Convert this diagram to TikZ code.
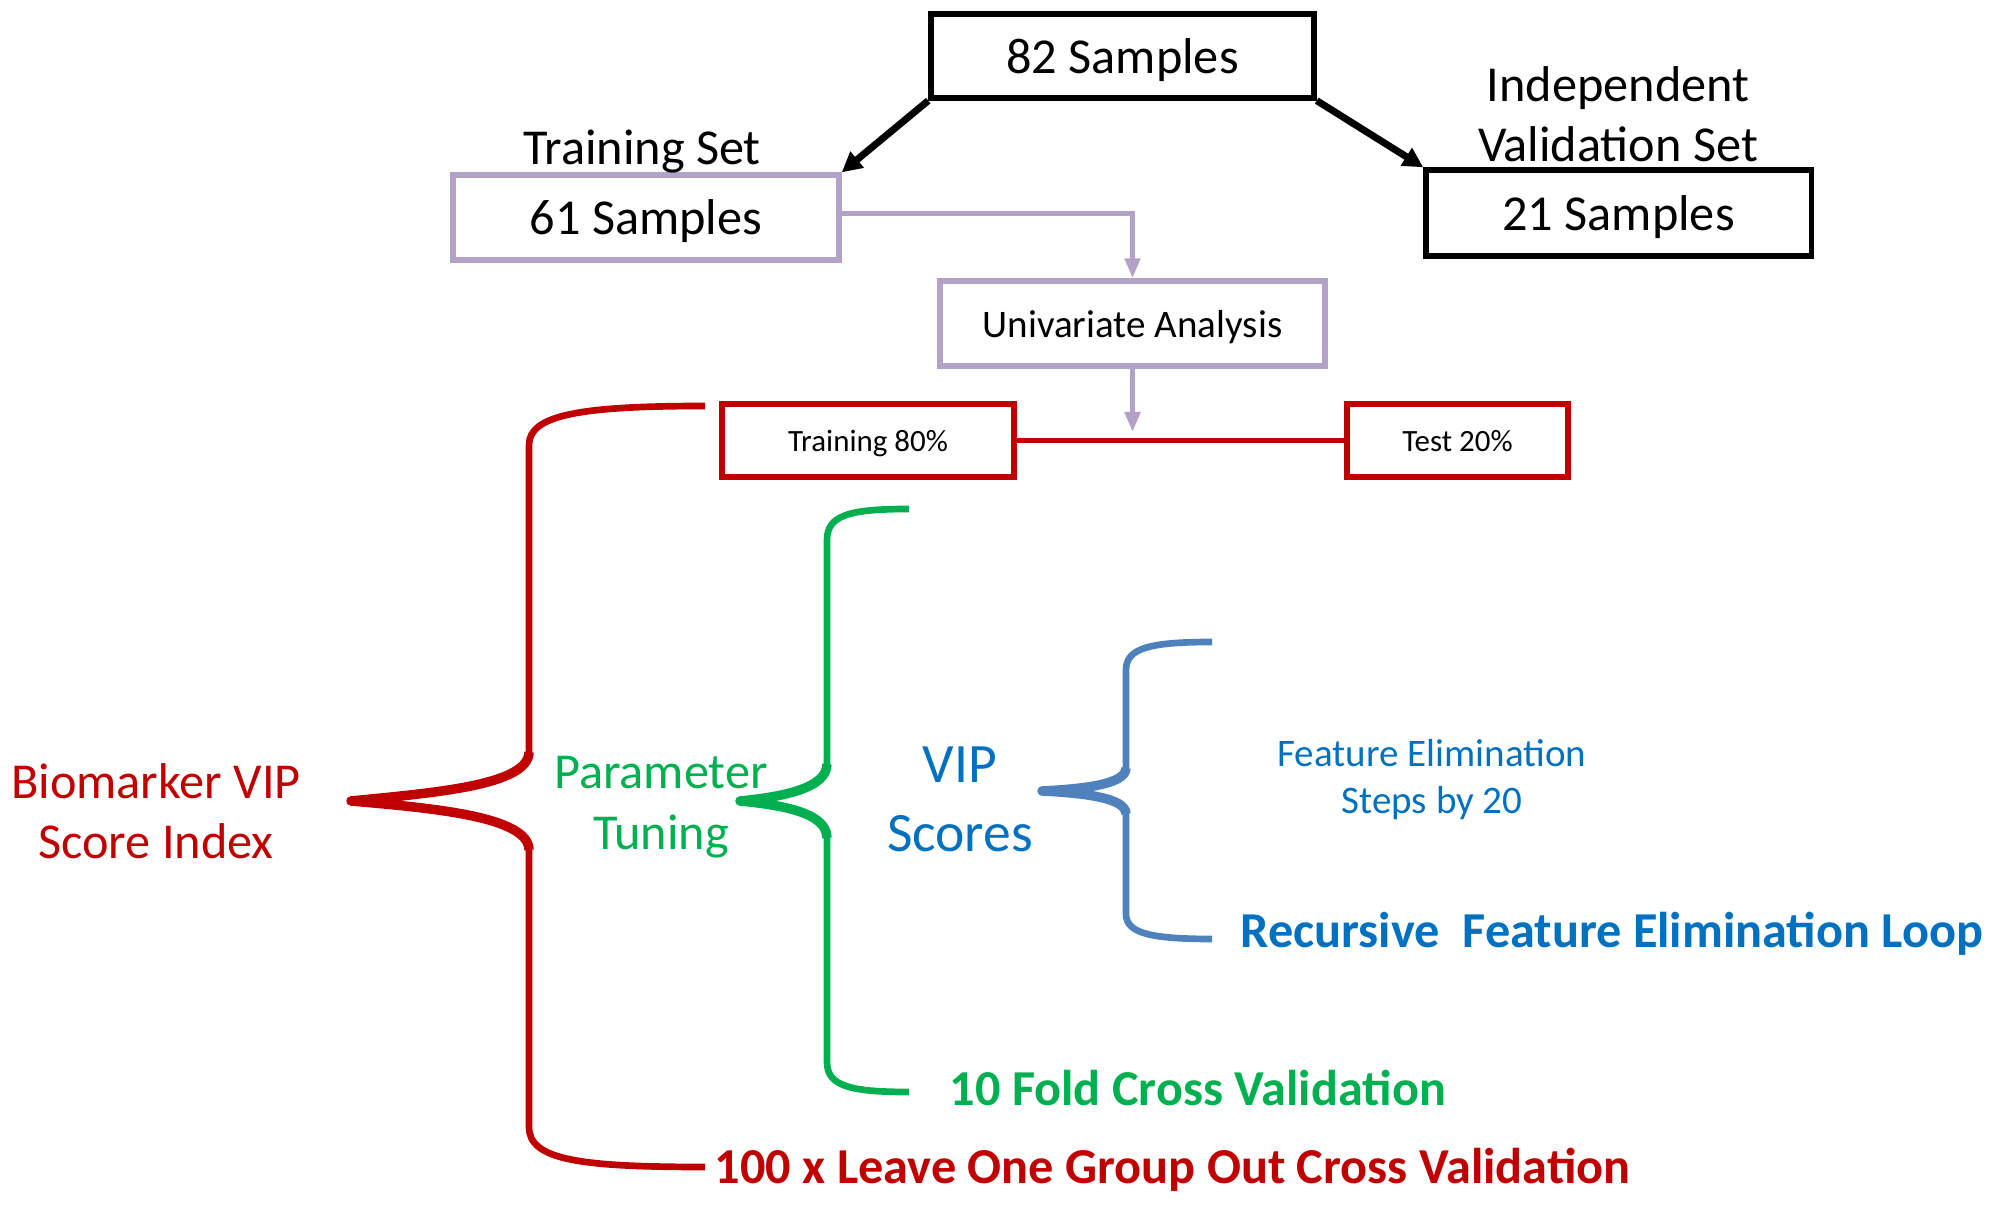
\documentclass[tikz,border=0pt]{standalone}
\usepackage{fontspec}
\setmainfont{Carlito}
\usetikzlibrary{arrows.meta}
\definecolor{dred}{RGB}{192,0,0}
\definecolor{lgreen}{RGB}{0,176,80}
\definecolor{tblue}{RGB}{0,112,192}
\definecolor{bblue}{RGB}{79,129,189}
\definecolor{lav}{RGB}{179,162,199}
\tikzset{
  bigfont/.style={font=\fontsize{14.3}{17.2}\selectfont},
  blackbox/.style={draw=black, line width=1.5pt, inner sep=0pt, text depth=0pt, bigfont},
  lavbox/.style={draw=lav, line width=1.5pt, inner sep=0pt, text depth=0pt},
  redbox/.style={draw=dred, line width=1.5pt, inner sep=0pt, text depth=0pt, font=\fontsize{8.8}{10}\selectfont},
  blackarrow/.style={line width=2pt, -{Triangle[length=0.2cm,width=0.2cm]}},
  lavarrow/.style={draw=lav, line width=1.5pt, -{Triangle[length=0.2cm,width=0.15cm]}},
  brace/.style={line width=1.9pt, line join=round, line cap=butt},
  bracetip/.style={line width=2.7pt, line join=round, line cap=butt},
}
\begin{document}
\begin{tikzpicture}[x=0.01cm,y=-0.01cm]
\useasboundingbox (0,0) rectangle (2000,1207);

% top boxes
\node[blackbox, minimum width=3.83cm, minimum height=0.84cm] (s82) at (1122.5,56) {82 Samples};
\node[lavbox, bigfont, minimum width=3.86cm, minimum height=0.85cm] (s61) at (646,217.5) {61 Samples};
\node[blackbox, minimum width=3.85cm, minimum height=0.86cm] (s21) at (1618.5,213) {21 Samples};
\node[bigfont, text depth=0pt] (trlab) at (642,147) {Training Set};
\node[bigfont, align=center] (ivlab) at (1618,114) {Independent\\Validation Set};

\node[lavbox, font=\fontsize{11.1}{13.4}\selectfont, minimum width=3.85cm, minimum height=0.85cm] (ua) at (1132.5,323.5) {Univariate Analysis};
\node[redbox, minimum width=2.92cm, minimum height=0.73cm] (t80) at (868,440.5) {Training 80\%};
\node[redbox, minimum width=2.21cm, minimum height=0.73cm] (t20) at (1457.5,440.5) {Test 20\%};

\draw[blackarrow] (s82.south west) -- (s61.north east);
\draw[blackarrow] (s82.south east) -- (s21.north west);
\draw[lavarrow] ([yshift=1.1pt]s61.east) -| (ua.north);
\coordinate (uaend) at (1132.5,432);
\draw[lavarrow] (ua.south) -- (uaend);
\draw[dred, line width=1.5pt] (t80.east) -- (t20.west);

% labels
\node[bigfont, text=dred, align=center] (bio) at (156,811) {Biomarker VIP\\[-0.2pt]Score Index};
\node[bigfont, text=lgreen, align=center, text depth=0pt] (pt) at (661,803) {Parameter\\Tuning};
\node[font=\fontsize{15.8}{19.6}\selectfont, text=tblue, align=center] (vip) at (960,799) {VIP\\Scores};
\node[font=\fontsize{11.1}{13.4}\selectfont, text=tblue, align=center] (fe) at (1432,780) {Feature Elimination\\Steps by 20};
\node[font=\bfseries\fontsize{14.3}{17.2}\selectfont, text=tblue, anchor=west, inner sep=0pt] (rfe) at (1240,934) {Recursive\ \ Feature Elimination Loop};
\node[font=\bfseries\fontsize{14.3}{17.2}\selectfont, text=lgreen, anchor=west, inner sep=0pt] (tfcv) at (949,1088) {10 Fold Cross Validation};
\node[font=\bfseries\fontsize{14.3}{17.2}\selectfont, text=dred, anchor=west, inner sep=0pt] (logo) at (714,1170) {100 x Leave One Group Out Cross Validation};

% red brace
\draw[brace, dred] (705,406) .. controls (580,406) and (529,415) .. (529,445)
  -- (529,752) .. controls (529,786) and (430,793) .. (351,801)
  .. controls (430,808) and (529,816) .. (529,850)
  -- (529,1127) .. controls (529,1160) and (580,1167) .. (705,1167);
\draw[bracetip, dred] (529,752) .. controls (529,786) and (430,793) .. (351,801)
  .. controls (430,808) and (529,816) .. (529,850);
% green brace
\draw[brace, lgreen] (909,509) .. controls (850,509) and (827,515) .. (827,540)
  -- (827,764) .. controls (827,789) and (780,797) .. (740,801)
  .. controls (780,805) and (827,812) .. (827,838)
  -- (827,1062) .. controls (827,1086) and (850,1092) .. (909,1092);
\draw[bracetip, lgreen] (827,764) .. controls (827,789) and (780,797) .. (740,801)
  .. controls (780,805) and (827,812) .. (827,838);
% blue brace
\draw[brace, bblue] (1212,642) .. controls (1150,642) and (1126,648) .. (1126,670)
  -- (1126,768) .. controls (1126,785) and (1080,789) .. (1042,791)
  .. controls (1080,793) and (1126,797) .. (1126,814)
  -- (1126,914) .. controls (1126,933) and (1150,939) .. (1212,939);
\draw[bracetip, bblue] (1126,768) .. controls (1126,785) and (1080,789) .. (1042,791)
  .. controls (1080,793) and (1126,797) .. (1126,814);
\end{tikzpicture}
\end{document}
